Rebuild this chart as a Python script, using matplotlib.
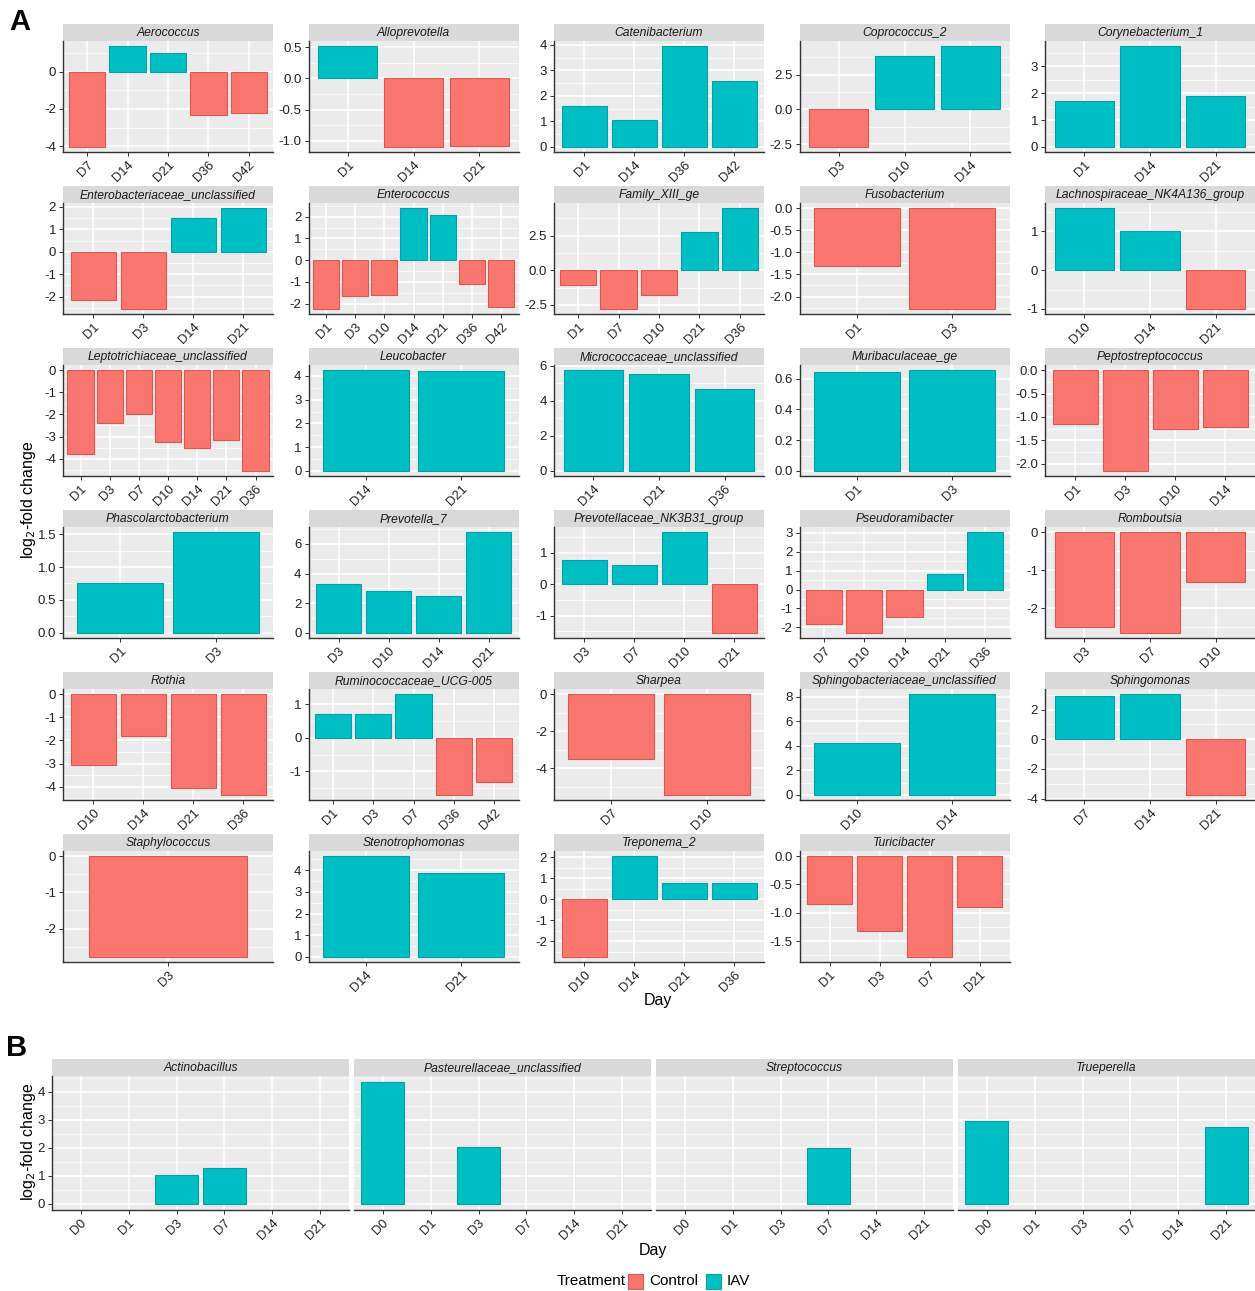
import numpy as np
import matplotlib
matplotlib.use('Agg')
from matplotlib import pyplot as plt
from matplotlib.patches import Rectangle

plt.rcParams['font.family'] = ['Liberation Sans', 'DejaVu Sans']
plt.rcParams['axes.unicode_minus'] = False

# ---- panel A data (one facet per genus, free scales) ----
genera_a = ['Aerococcus', 'Alloprevotella', 'Catenibacterium', 'Coprococcus_2', 'Corynebacterium_1',
            'Enterobacteriaceae_unclassified', 'Enterococcus', 'Family_XIII_ge', 'Fusobacterium',
            'Lachnospiraceae_NK4A136_group',
            'Leptotrichiaceae_unclassified', 'Leucobacter', 'Micrococcaceae_unclassified',
            'Muribaculaceae_ge', 'Peptostreptococcus',
            'Phascolarctobacterium', 'Prevotella_7', 'Prevotellaceae_NK3B31_group',
            'Pseudoramibacter', 'Romboutsia',
            'Rothia', 'Ruminococcaceae_UCG-005', 'Sharpea', 'Sphingobacteriaceae_unclassified',
            'Sphingomonas',
            'Staphylococcus', 'Stenotrophomonas', 'Treponema_2', 'Turicibacter']

days_a = [['D7', 'D14', 'D21', 'D36', 'D42'], ['D1', 'D14', 'D21'], ['D1', 'D14', 'D36', 'D42'],
          ['D3', 'D10', 'D14'], ['D1', 'D14', 'D21'],
          ['D1', 'D3', 'D14', 'D21'], ['D1', 'D3', 'D10', 'D14', 'D21', 'D36', 'D42'],
          ['D1', 'D7', 'D10', 'D21', 'D36'], ['D1', 'D3'], ['D10', 'D14', 'D21'],
          ['D1', 'D3', 'D7', 'D10', 'D14', 'D21', 'D36'], ['D14', 'D21'], ['D14', 'D21', 'D36'],
          ['D1', 'D3'], ['D1', 'D3', 'D10', 'D14'],
          ['D1', 'D3'], ['D3', 'D10', 'D14', 'D21'], ['D3', 'D7', 'D10', 'D21'],
          ['D7', 'D10', 'D14', 'D21', 'D36'], ['D3', 'D7', 'D10'],
          ['D10', 'D14', 'D21', 'D36'], ['D1', 'D3', 'D7', 'D36', 'D42'], ['D7', 'D10'],
          ['D10', 'D14'], ['D7', 'D14', 'D21'],
          ['D3'], ['D14', 'D21'], ['D10', 'D14', 'D21', 'D36'], ['D1', 'D3', 'D7', 'D21']]

lfc_a = [[-4.05, 1.4, 1.0, -2.35, -2.2], [0.52, -1.1, -1.08], [1.6, 1.05, 3.95, 2.6],
         [-2.7, 3.8, 4.55], [1.7, 3.75, 1.9],
         [-2.15, -2.55, 1.5, 1.95], [-2.25, -1.65, -1.6, 2.4, 2.1, -1.1, -2.15],
         [-1.1, -2.8, -1.8, 2.75, 4.5], [-1.3, -2.28], [1.6, 1.0, -1.0],
         [-3.8, -2.4, -2.0, -3.25, -3.5, -3.15, -4.55], [4.25, 4.2], [5.75, 5.5, 4.65],
         [0.645, 0.655], [-1.15, -2.15, -1.25, -1.22],
         [0.75, 1.53], [3.3, 2.8, 2.5, 6.8], [0.75, 0.6, 1.65, -1.55],
         [-1.8, -2.3, -1.45, 0.85, 3.05], [-2.5, -2.65, -1.3],
         [-3.05, -1.8, -4.05, -4.35], [0.72, 0.72, 1.3, -1.7, -1.3], [-3.5, -5.45],
         [4.25, 8.2], [2.9, 3.05, -3.75],
         [-2.78], [4.65, 3.85], [-2.75, 2.05, 0.75, 0.75], [-0.85, -1.32, -1.78, -0.9]]

yticks_a = [[-4, -2, 0], [-1.0, -0.5, 0.0, 0.5], [0, 1, 2, 3, 4], [-2.5, 0.0, 2.5], [0, 1, 2, 3],
            [-2, -1, 0, 1, 2], [-2, -1, 0, 1, 2], [-2.5, 0.0, 2.5], [-2.0, -1.5, -1.0, -0.5, 0.0],
            [-1, 0, 1],
            [-4, -3, -2, -1, 0], [0, 1, 2, 3, 4], [0, 2, 4, 6], [0.0, 0.2, 0.4, 0.6],
            [-2.0, -1.5, -1.0, -0.5, 0.0],
            [0.0, 0.5, 1.0, 1.5], [0, 2, 4, 6], [-1, 0, 1], [-2, -1, 0, 1, 2, 3], [-2, -1, 0],
            [-4, -3, -2, -1, 0], [-1, 0, 1], [-4, -2, 0], [0, 2, 4, 6, 8], [-4, -2, 0, 2],
            [-2, -1, 0], [0, 1, 2, 3, 4], [-2, -1, 0, 1, 2], [-1.5, -1.0, -0.5, 0.0]]

# ---- panel B data (shared x and y) ----
genera_b = ['Actinobacillus', 'Pasteurellaceae_unclassified', 'Streptococcus', 'Trueperella']
days_b = ['D0', 'D1', 'D3', 'D7', 'D14', 'D21']
lfc_b = [[np.nan, np.nan, 1.05, 1.3, np.nan, np.nan],
         [4.35, np.nan, 2.05, np.nan, np.nan, np.nan],
         [np.nan, np.nan, np.nan, 2.0, np.nan, np.nan],
         [2.95, np.nan, np.nan, np.nan, np.nan, 2.75]]
yticks_b = [0, 1, 2, 3, 4]

treatments = ['Control', 'IAV']
fills = {'Control': '#F8766D', 'IAV': '#00BFC4'}
edges = {'Control': '#E3564E', 'IAV': '#00A3A8'}

W, H = 1255, 1291
fig = plt.figure(figsize=(W / 100, H / 100), dpi=100)


def px_axes(x0, y0, x1, y1):
    return fig.add_axes([x0 / W, 1 - y1 / H, (x1 - x0) / W, (y1 - y0) / H])


def fmt(t, ticks):
    if all(float(v).is_integer() for v in ticks):
        return '%d' % t
    return '%.1f' % t


def draw_facet(box, name, days, vals, ticks, ylim=None, show_y=True):
    x0, top, x1, y1 = box
    sax = px_axes(x0, top, x1, top + 17)
    sax.set_facecolor('#D9D9D9')
    sax.set_xticks([]); sax.set_yticks([])
    for s in sax.spines.values():
        s.set_visible(False)
    sax.text(0.5, 0.45, name, ha='center', va='center', fontsize=8.7, style='italic',
             color='#1A1A1A', transform=sax.transAxes)

    ax = px_axes(x0, top + 17, x1, y1)
    ax.set_facecolor('#EBEBEB')
    vals = np.asarray(vals, dtype=float)
    n = len(days)
    xs = np.arange(n)
    if ylim is None:
        lo, hi = min(0, np.nanmin(vals)), max(0, np.nanmax(vals))
        r = hi - lo
        ylim = (lo - 0.05 * r, hi + 0.05 * r)
    ax.set_xlim(-0.6, n - 1 + 0.6)
    ax.set_ylim(*ylim)

    # grid: major at ticks, minor halfway
    step = ticks[1] - ticks[0] if len(ticks) > 1 else 1.0
    minors = [ticks[0] - step / 2] + [t + step / 2 for t in ticks]
    for m in minors:
        if ylim[0] < m < ylim[1]:
            ax.axhline(m, color='white', lw=0.5, zorder=0.5)
    for t in ticks:
        ax.axhline(t, color='white', lw=1.1, zorder=0.6)
    for xv in xs:
        ax.axvline(xv, color='white', lw=1.1, zorder=0.6)

    for xv, v in zip(xs, vals):
        if np.isnan(v):
            continue
        tr = 'IAV' if v > 0 else 'Control'
        ax.bar(xv, v, width=0.9, color=fills[tr], edgecolor=edges[tr], linewidth=0.8, zorder=2)

    ax.set_xticks(xs)
    ax.set_xticklabels(days, rotation=45, ha='right', va='top', rotation_mode='anchor',
                       fontsize=9.3, color='#222222')
    ax.set_yticks(ticks)
    ax.tick_params(axis='both', length=3, width=0.7, color='#333333', pad=2)
    ax.tick_params(axis='x', pad=2)
    if show_y:
        ax.set_yticklabels([fmt(t, ticks) for t in ticks], fontsize=9.5, color='#222222')
    else:
        ax.set_yticklabels([])
        ax.tick_params(axis='y', length=0)
    ax.spines['top'].set_visible(False)
    ax.spines['right'].set_visible(False)
    ax.spines['left'].set_color('#333333')
    ax.spines['bottom'].set_color('#333333')
    ax.spines['left'].set_linewidth(1.0)
    ax.spines['bottom'].set_linewidth(1.0)
    if not show_y:
        ax.spines['left'].set_visible(False)
    ax.set_axisbelow(True)
    return ax


# panel A: 6 rows x 5 cols
for i, name in enumerate(genera_a):
    r, c = divmod(i, 5)
    x0 = 63 + 245.5 * c
    top = 24 + 162 * r
    draw_facet((x0, top, x0 + 210, top + 128), name, days_a[i], lfc_a[i], yticks_a[i])

# panel B: 1 row x 4 cols, shared y
allb = np.array(lfc_b, dtype=float)
hi_b = np.nanmax(allb)
ylim_b = (-0.05 * hi_b, hi_b * 1.05)
for j, name in enumerate(genera_b):
    x0 = 52 + 302 * j
    draw_facet((x0, 1059, x0 + 297, 1210), name, days_b, lfc_b[j], yticks_b,
               ylim=ylim_b, show_y=(j == 0))

# labels
ylab = r'log$_2$-fold change'
fig.text(28 / W, 1 - 500 / H, ylab, rotation=90, ha='center', va='center', fontsize=11.5)
fig.text(28 / W, 1 - 1142 / H, ylab, rotation=90, ha='center', va='center', fontsize=11.5)
fig.text(658 / W, 1 - 1000 / H, 'Day', ha='center', va='center', fontsize=11.5)
fig.text(653 / W, 1 - 1250 / H, 'Day', ha='center', va='center', fontsize=11.5)
fig.text(20 / W, 1 - 22 / H, 'A', ha='center', va='center', fontsize=21, fontweight='bold')
fig.text(17 / W, 1 - 1048 / H, 'B', ha='center', va='center', fontsize=21, fontweight='bold')

# legend
ly = 1281
fig.text(557 / W, 1 - ly / H, 'Treatment', ha='left', va='center', fontsize=11)
for key, lx in zip(treatments, [628, 706]):
    fig.patches.append(Rectangle((lx / W, 1 - (ly + 8) / H), 15 / W, 15 / H,
                                 facecolor=fills[key], edgecolor=edges[key], lw=0.8,
                                 transform=fig.transFigure, figure=fig))
    fig.text((lx + 21) / W, 1 - ly / H, key, ha='left', va='center', fontsize=11)

fig.savefig('out.png', dpi=100, facecolor='white')
